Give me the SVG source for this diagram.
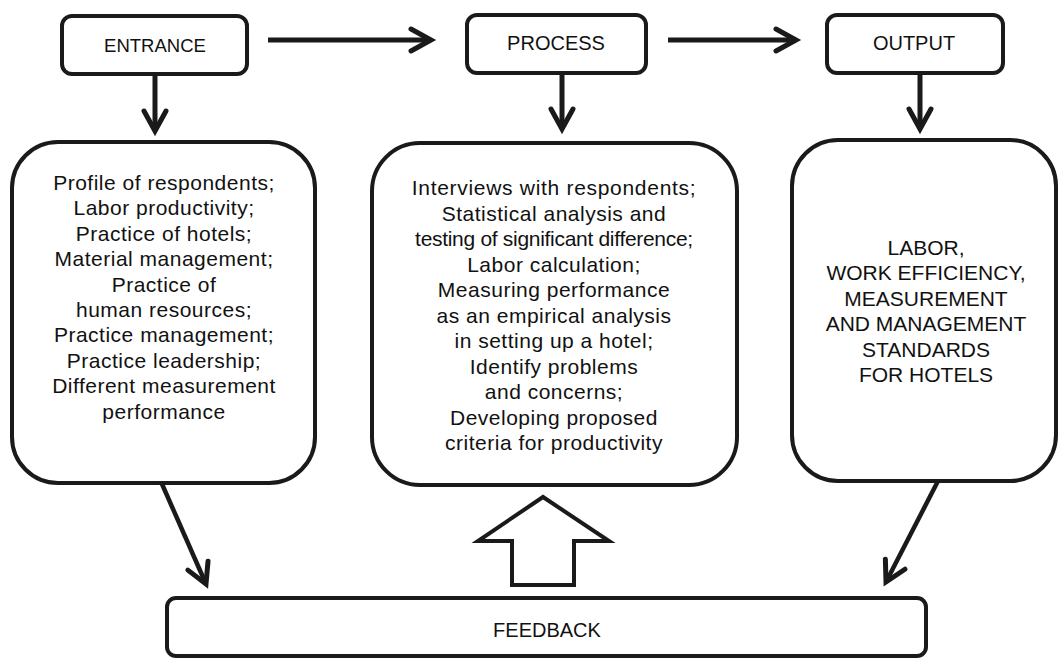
<svg xmlns="http://www.w3.org/2000/svg" width="1060" height="658" viewBox="0 0 1060 658">
<style>
.box{fill:#fff;stroke:#1a1a1a;stroke-width:4}
.lbl{font-family:"Liberation Sans",Arial,sans-serif;font-size:20px;fill:#111;text-anchor:middle}
.body{font-family:"Liberation Sans",Arial,sans-serif;font-size:21px;fill:#111;text-anchor:middle;letter-spacing:0.5px}
.caps{letter-spacing:0px}
.con{fill:none;stroke:#1a1a1a;stroke-width:5;marker-end:url(#chev)}
.con2{fill:none;stroke:#1a1a1a;stroke-width:4.5;marker-end:url(#chev)}
</style>
<defs>
<marker id="chev" markerUnits="userSpaceOnUse" markerWidth="40" markerHeight="40" viewBox="-30 -20 40 40" refX="0" refY="0" orient="auto" overflow="visible">
<path d="M-20,-11 L0,0 L-20,11" fill="none" stroke="#1a1a1a" stroke-width="5" stroke-linecap="round" stroke-linejoin="miter"/>
</marker>
</defs>
<rect width="1060" height="658" fill="#fff"/>
<g id="connectors">
<line class="con" x1="268" y1="40" x2="431" y2="40"/>
<line class="con" x1="668" y1="40" x2="796" y2="40"/>
<line class="con" x1="155" y1="75" x2="155" y2="131"/>
<line class="con" x1="562" y1="74" x2="562" y2="129"/>
<line class="con" x1="920" y1="74" x2="920" y2="129"/>
<line class="con2" x1="162" y1="484" x2="206" y2="584"/>
<line class="con2" x1="938" y1="481" x2="886" y2="582"/>
<polygon id="bigArrow" points="543,497 478,541 512,541 512,585 574,585 574,541 609,541" fill="#fff" stroke="#1a1a1a" stroke-width="4"/>
</g>
<g id="entrance">
<rect class="box" x="62" y="16" width="185" height="58" rx="10"/>
<text class="lbl" x="155" y="52" style="font-size:18.5px">ENTRANCE</text>
</g>
<g id="process">
<rect class="box" x="467" y="15" width="179" height="58" rx="10"/>
<text class="lbl" x="556" y="50">PROCESS</text>
</g>
<g id="output">
<rect class="box" x="827" y="15" width="176" height="58" rx="10"/>
<text class="lbl" x="914" y="50">OUTPUT</text>
</g>
<g id="inputs">
<rect class="box" x="12" y="142" width="303" height="341" rx="46"/>
<text class="body" x="164" y="190">Profile of respondents;</text>
<text class="body" x="164" y="215.4">Labor productivity;</text>
<text class="body" x="164" y="240.8">Practice of hotels;</text>
<text class="body" x="164" y="266.2">Material management;</text>
<text class="body" x="164" y="291.6">Practice of</text>
<text class="body" x="164" y="317">human resources;</text>
<text class="body" x="164" y="342.4">Practice management;</text>
<text class="body" x="164" y="367.8">Practice leadership;</text>
<text class="body" x="164" y="393.2">Different measurement</text>
<text class="body" x="164" y="418.6">performance</text>
</g>
<g id="processes">
<rect class="box" x="372" y="143" width="365" height="342" rx="48"/>
<text class="body" x="554" y="195" style="letter-spacing:0.7px">Interviews with respondents;</text>
<text class="body" x="554" y="220.5">Statistical analysis and</text>
<text class="body" x="554" y="246" style="letter-spacing:-0.3px">testing of significant difference;</text>
<text class="body" x="554" y="271.5">Labor calculation;</text>
<text class="body" x="554" y="297">Measuring performance</text>
<text class="body" x="554" y="322.5">as an empirical analysis</text>
<text class="body" x="554" y="348">in setting up a hotel;</text>
<text class="body" x="554" y="373.5">Identify problems</text>
<text class="body" x="554" y="399">and concerns;</text>
<text class="body" x="554" y="424.5">Developing proposed</text>
<text class="body" x="554" y="450">criteria for productivity</text>
</g>
<g id="outputs">
<rect class="box" x="792" y="140" width="264" height="341" rx="46"/>
<text class="body caps" x="926" y="255">LABOR,</text>
<text class="body caps" x="926" y="280.4">WORK EFFICIENCY,</text>
<text class="body caps" x="926" y="305.8">MEASUREMENT</text>
<text class="body caps" x="926" y="331.2">AND MANAGEMENT</text>
<text class="body caps" x="926" y="356.6">STANDARDS</text>
<text class="body caps" x="926" y="382">FOR HOTELS</text>
</g>
<g id="feedback">
<rect class="box" x="167" y="598" width="759" height="58" rx="9"/>
<text class="lbl" x="547" y="637">FEEDBACK</text>
</g>
</svg>
